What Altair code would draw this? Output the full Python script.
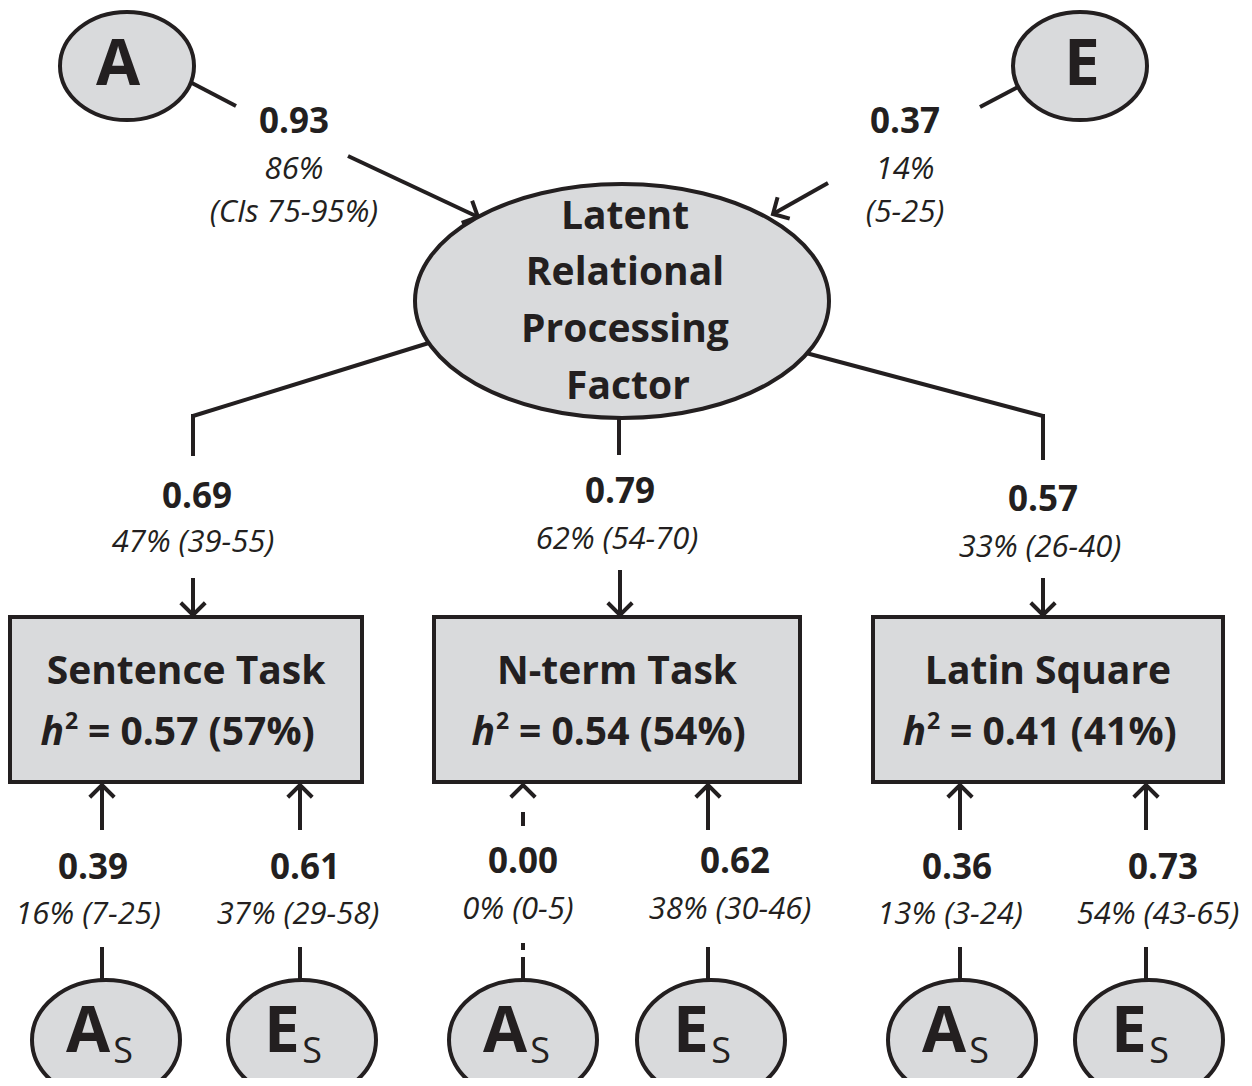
import altair as alt
import pandas as pd

# ---------------- data ----------------
common_labels = ["A", "E"]
common_paths = ["0.93", "0.37"]
common_pct = ["86%", "14%"]
common_ci = ["(CIs 75-95%)", "(5-25)"]
factor_lines = ["Latent", "Relational", "Processing", "Factor"]
tasks = ["Sentence Task", "N-term Task", "Latin Square"]
task_h2 = ["= 0.57 (57%)", "= 0.54 (54%)", "= 0.41 (41%)"]
factor_loadings = ["0.69", "0.79", "0.57"]
factor_pct = ["47% (39-55)", "62% (54-70)", "33% (26-40)"]
as_paths = ["0.39", "0.00", "0.36"]
as_pct = ["16% (7-25)", "0% (0-5)", "13% (3-24)"]
es_paths = ["0.61", "0.62", "0.73"]
es_pct = ["37% (29-58)", "38% (30-46)", "54% (43-65)"]
specific_letters = ["A", "E"]

# ---------------- layout (pixel positions of the diagram) ----------------
DARK = "#231f20"
GRAY = "#d9dadc"
FONT = "Open Sans"

common_ell = [(127, 66), (1080, 66)]
common_letter = [(118, 66), (1082, 66)]
common_txt_x = [294, 905]
common_txt_y = [122, 170, 213]
factor_center = (622, 301)
factor_txt = [(625, 217), (625, 273), (625, 330), (628, 387)]
box_l = [10, 434, 873]
box_r = [362, 800, 1223]
box_t, box_b = 617, 782
box_cx = [186, 617, 1048]
load_x = [193, 620, 1043]
load_val = [(197, 497), (620, 492), (1043, 500)]
load_pct = [(193, 543), (617, 540), (1040, 548)]
as_x = [102, 523, 960]
es_x = [300, 708, 1146]
as_ell_x = [106, 523, 962]
es_ell_x = [302, 711, 1149]
spec_ell_y = 1040
bot_val_y = [868, 862, 868]
bot_pct_y = [915, 910, 915]
as_val_x = [93, 523, 957]
es_val_x = [305, 735, 1163]
as_pct_x = [88, 518, 950]
es_pct_x = [298, 730, 1158]

# line segments
segs = [
    (190, 82, 236, 106),     # A -> label
    (348, 156, 478, 217),    # label -> factor (arrow)
    (1020, 86, 980, 107),    # E -> label
    (828, 183, 773, 214),    # label -> factor (arrow)
    (432, 342, 193, 416), (193, 414, 193, 456),
    (619, 416, 619, 455),
    (806, 353, 1043, 416), (1043, 414, 1043, 460),
]
chev = [(478, 217, 25.2), (773, 214, 150.3)]
for i in range(3):
    x = load_x[i]
    top = 570 if i == 1 else 578
    segs.append((x, top, x, box_t - 2))
    chev.append((x, box_t - 2, 90))
    # es paths (solid)
    segs.append((es_x[i], 830, es_x[i], 786))
    segs.append((es_x[i], 947, es_x[i], 990))
    chev.append((es_x[i], box_b + 3, 270))
    # as paths
    if as_paths[i] == "0.00":
        segs.append((as_x[i], 812, as_x[i], 826))
        segs.append((as_x[i], 943, as_x[i], 950))
        segs.append((as_x[i], 957, as_x[i], 990))
    else:
        segs.append((as_x[i], 830, as_x[i], 786))
        segs.append((as_x[i], 947, as_x[i], 990))
    chev.append((as_x[i], box_b + 3, 270))

seg_df = pd.DataFrame(segs, columns=["x", "y", "x2", "y2"])
chev_df = pd.DataFrame(chev, columns=["x", "y", "angle"])

xs = alt.Scale(domain=[8, 1244], nice=False, zero=False)
ys = alt.Scale(domain=[8, 1078], reverse=True, nice=False, zero=False)


def X(f="x"):
    return alt.X(f"{f}:Q", scale=xs, axis=None)


def Y(f="y"):
    return alt.Y(f"{f}:Q", scale=ys, axis=None)


def ellipse_path(k):
    c = 0.5523
    return (f"M -1 0 C -1 {-c*k:.4f} {-c:.4f} {-k:.4f} 0 {-k:.4f} "
            f"C {c:.4f} {-k:.4f} 1 {-c*k:.4f} 1 0 "
            f"C 1 {c*k:.4f} {c:.4f} {k:.4f} 0 {k:.4f} "
            f"C {-c:.4f} {k:.4f} -1 {c*k:.4f} -1 0 Z")


lines = alt.Chart(seg_df).mark_rule(stroke=DARK, strokeWidth=4).encode(
    x=X(), y=Y(), x2="x2:Q", y2="y2:Q")

chevrons = alt.Chart(chev_df).mark_point(
    shape="M -1 -1 L 0 0 L -1 1", filled=False, stroke=DARK, strokeWidth=4,
    size=600, opacity=1, strokeJoin="miter", strokeCap="butt"
).encode(x=X(), y=Y(), angle=alt.Angle("angle:Q", scale=None))


def ellipses(centers, rx, ry):
    df = pd.DataFrame(centers, columns=["x", "y"])
    return alt.Chart(df).mark_point(
        shape=ellipse_path(ry / rx), size=(2 * rx) ** 2, filled=True,
        fill=GRAY, stroke=DARK, strokeWidth=4, opacity=1, fillOpacity=1
    ).encode(x=X(), y=Y())


ell_common = ellipses(common_ell, 67, 54)
ell_factor = ellipses([factor_center], 207, 117)
spec_centers = [(as_ell_x[i], spec_ell_y) for i in range(3)] + \
               [(es_ell_x[i], spec_ell_y) for i in range(3)]
ell_spec = ellipses(spec_centers, 74, 60)

boxes = alt.Chart(pd.DataFrame({"x": box_l, "x2": box_r,
                                "y": [box_t] * 3, "y2": [box_b] * 3})).mark_rect(
    fill=GRAY, stroke=DARK, strokeWidth=4).encode(x=X(), x2="x2:Q", y=Y(), y2="y2:Q")


def texts(rows, size, weight="bold", style="normal", align="center"):
    df = pd.DataFrame(rows, columns=["x", "y", "t"])
    return alt.Chart(df).mark_text(
        font=FONT, fontSize=size, fontWeight=weight, fontStyle=style,
        color=DARK, align=align, baseline="middle"
    ).encode(x=X(), y=Y(), text="t:N")


# text rows
big_letters = [(common_letter[i][0], common_letter[i][1], common_labels[i]) for i in range(2)]
bold_vals = [(common_txt_x[i], common_txt_y[0], common_paths[i]) for i in range(2)]
ital_vals = [(common_txt_x[i], common_txt_y[1], common_pct[i]) for i in range(2)] + \
            [(common_txt_x[i], common_txt_y[2], common_ci[i]) for i in range(2)]
factor_rows = [(factor_txt[i][0], factor_txt[i][1], factor_lines[i]) for i in range(4)]
task_rows = [(box_cx[i], 672, tasks[i]) for i in range(3)]
h2_rest = [(box_cx[i] - 98, 733, task_h2[i]) for i in range(3)]
h_sym = [(box_cx[i] - 122, 733, "h") for i in range(3)]
sup_two = [(box_cx[i] - 121, 722, "2") for i in range(3)]
for i in range(3):
    bold_vals.append((load_val[i][0], load_val[i][1], factor_loadings[i]))
    ital_vals.append((load_pct[i][0], load_pct[i][1], factor_pct[i]))
    bold_vals.append((as_val_x[i], bot_val_y[i], as_paths[i]))
    bold_vals.append((es_val_x[i], bot_val_y[i], es_paths[i]))
    ital_vals.append((as_pct_x[i], bot_pct_y[i], as_pct[i]))
    ital_vals.append((es_pct_x[i], bot_pct_y[i], es_pct[i]))

spec_main = []
spec_sub = []
for i in range(3):
    spec_main.append((as_ell_x[i] - 18, 1033, specific_letters[0]))
    spec_sub.append((as_ell_x[i] + 17, 1052, "S"))
    spec_main.append((es_ell_x[i] - 20, 1033, specific_letters[1]))
    spec_sub.append((es_ell_x[i] + 10, 1052, "S"))

chart = alt.layer(
    lines, chevrons, ell_common, ell_factor, ell_spec, boxes,
    texts(big_letters, 64),
    texts(bold_vals, 35),
    texts(ital_vals, 31, weight="normal", style="italic"),
    texts(factor_rows, 39),
    texts(task_rows, 39),
    texts(h2_rest, 39, align="left"),
    texts(h_sym, 39, style="italic", align="right"),
    texts(sup_two, 23, align="left"),
    texts(spec_main, 64),
    texts(spec_sub, 36, weight="normal"),
).properties(
    width=1236, height=1070, padding=0, background="white",
    autosize=alt.AutoSizeParams(type="none")
).configure_view(stroke=None)

chart.save("out.html", embed_options={"renderer": "svg", "actions": False})
